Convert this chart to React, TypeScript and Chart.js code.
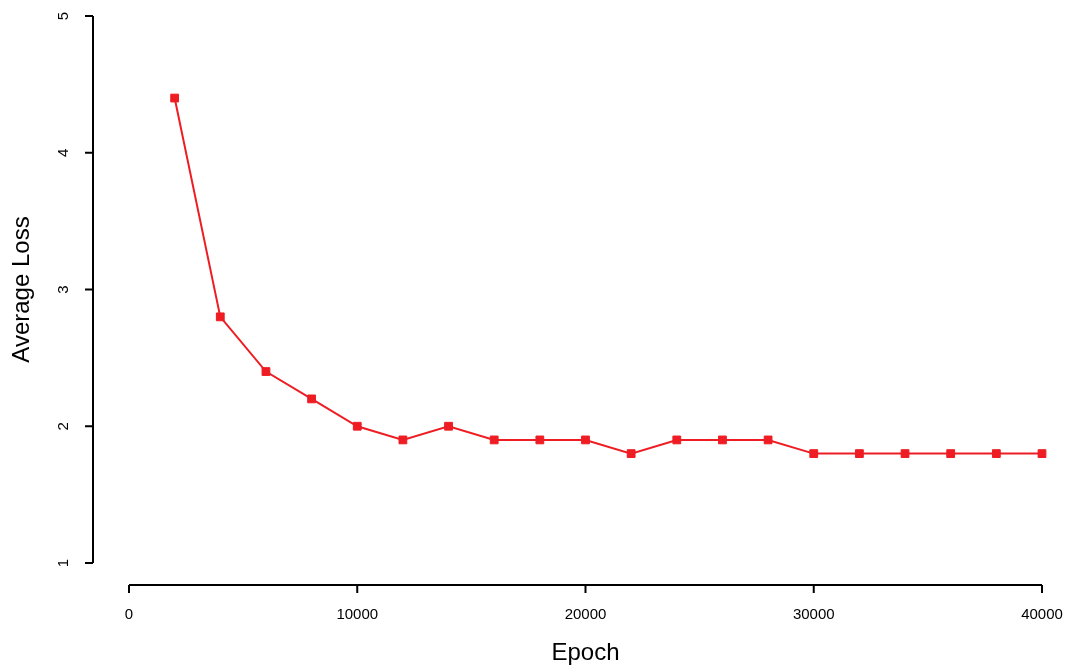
import React, { useEffect, useRef } from "react";
import { Chart, registerables } from "chart.js";

Chart.register(...registerables);

const epochs = [2000, 4000, 6000, 8000, 10000, 12000, 14000, 16000, 18000, 20000, 22000, 24000, 26000, 28000, 30000, 32000, 34000, 36000, 38000, 40000];
const avgLoss = [4.4, 2.8, 2.4, 2.2, 2.0, 1.9, 2.0, 1.9, 1.9, 1.9, 1.8, 1.9, 1.9, 1.9, 1.8, 1.8, 1.8, 1.8, 1.8, 1.8];
const xTicks = [0, 10000, 20000, 30000, 40000];
const yTicks = [1, 2, 3, 4, 5];

const FONT = "'Liberation Sans', Arial, Helvetica, sans-serif";
const RED = "#EE1D23";

const rAxes = {
  id: "rAxes",
  afterDraw(chart: any) {
    const ctx = chart.ctx;
    const xs = chart.scales.x;
    const ys = chart.scales.y;
    const area = chart.chartArea;
    ctx.save();
    ctx.strokeStyle = "#000";
    ctx.fillStyle = "#000";
    ctx.lineWidth = 2;
    // x axis
    const yAx = area.bottom;
    const x0 = xs.getPixelForValue(xTicks[0]);
    const x1 = xs.getPixelForValue(xTicks[xTicks.length - 1]);
    ctx.beginPath();
    ctx.moveTo(x0, yAx);
    ctx.lineTo(x1, yAx);
    ctx.stroke();
    ctx.font = `15px ${FONT}`;
    ctx.textAlign = "center";
    ctx.textBaseline = "middle";
    xTicks.forEach((t) => {
      const px = xs.getPixelForValue(t);
      ctx.beginPath();
      ctx.moveTo(px, yAx);
      ctx.lineTo(px, yAx + 8);
      ctx.stroke();
      ctx.fillText(String(t), px, yAx + 30);
    });
    // y axis
    const xAx = area.left;
    const y0 = ys.getPixelForValue(yTicks[0]);
    const y1 = ys.getPixelForValue(yTicks[yTicks.length - 1]);
    ctx.beginPath();
    ctx.moveTo(xAx, y0);
    ctx.lineTo(xAx, y1);
    ctx.stroke();
    yTicks.forEach((t) => {
      const py = ys.getPixelForValue(t);
      ctx.beginPath();
      ctx.moveTo(xAx, py);
      ctx.lineTo(xAx - 8, py);
      ctx.stroke();
      ctx.save();
      ctx.translate(xAx - 29, py);
      ctx.rotate(-Math.PI / 2);
      ctx.fillText(String(t), 0, 0);
      ctx.restore();
    });
    // titles
    ctx.font = `24px ${FONT}`;
    ctx.fillText("Epoch", (x0 + x1) / 2, yAx + 68);
    ctx.save();
    ctx.translate(22, (y0 + y1) / 2);
    ctx.rotate(-Math.PI / 2);
    ctx.fillText("Average Loss", 0, 0);
    ctx.restore();
    ctx.restore();
  },
};

export default function App() {
  const ref = useRef<HTMLCanvasElement>(null);
  useEffect(() => {
    if (!ref.current) return;
    const chart = new Chart(ref.current, {
      type: "line",
      data: {
        datasets: [
          {
            data: epochs.map((e, i) => ({ x: e, y: avgLoss[i] })),
            borderColor: RED,
            backgroundColor: RED,
            borderWidth: 2,
            pointStyle: "rect",
            pointRadius: 5.5,
            pointBorderWidth: 1,
            pointBorderColor: RED,
            pointBackgroundColor: RED,
            tension: 0,
          },
        ],
      },
      options: {
        animation: false,
        responsive: false,
        maintainAspectRatio: false,
        layout: { autoPadding: false, padding: { left: 93, right: 0, top: 0, bottom: 81 } },
        plugins: { legend: { display: false }, tooltip: { enabled: false } },
        scales: {
          x: { type: "linear", display: false, min: -1577, max: 41008 },
          y: { type: "linear", display: false, min: 0.8391, max: 5.117 },
        },
      },
      plugins: [rAxes],
    });
    return () => chart.destroy();
  }, []);
  return (
    <div style={{ position: "fixed", left: 0, top: 0, width: 1065, height: 666, background: "#fff" }}>
      <canvas ref={ref} width={1065} height={666} style={{ width: 1065, height: 666 }} />
    </div>
  );
}
